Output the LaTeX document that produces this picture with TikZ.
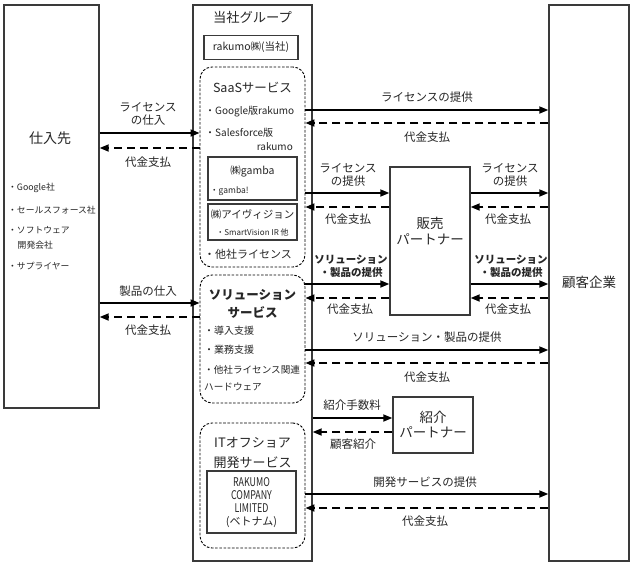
\documentclass[tikz,border=0pt]{standalone}
\usepackage{fontspec}
\setmainfont{Noto Sans CJK JP}
\usetikzlibrary{arrows.meta}
\definecolor{boxc}{HTML}{3A3A3A}
\definecolor{txtc}{HTML}{262626}
\newcommand\myfs[1]{\fontsize{#1}{#1}\selectfont}
\newcommand\cond[1]{\scalebox{0.74}[1]{#1}}
\begin{document}
\begin{tikzpicture}[x=1pt,y=-1pt,
  box/.style={draw=boxc, line width=1.4pt, inner sep=0pt, fill=none},
  dbox/.style={draw=black, line width=0.9pt, dash pattern=on 2.6pt off 1.6pt, rounded corners=12pt, inner sep=0pt},
  t/.style={inner sep=0pt, text=txtc, align=center},
  lbl/.style={t, font=\fontsize{11.5}{13.5}\selectfont},
  arr/.style={draw=black, line width=1.7pt, -{Triangle[length=9pt,width=7pt]}},
  darr/.style={arr, dash pattern=on 8pt off 5pt}]
\fill[white] (0,0) rectangle (635,568);
\useasboundingbox (0,0) rectangle (635,568);

% main boxes
\node[box, minimum width=95, minimum height=403] (sup) at (51.5,206.5) {};
\node[box, minimum width=119, minimum height=556] (grp) at (252.5,283) {};
\node[box, minimum width=80, minimum height=556] (cust) at (589,283) {};

% supplier texts
\node[t, font=\myfs{14}] (supT) at (50,138) {仕入先};
\node[t, anchor=west, font=\myfs{8.8}] (s1) at (8,188) {・Google社};
\node[t, anchor=west, font=\myfs{8.8}] (s2) at (8,210) {・セールスフォース社};
\node[t, anchor=west, font=\myfs{8.8}] (s3) at (8,230) {・ソフトウェア};
\node[t, anchor=west, font=\myfs{8.8}] (s4) at (17.5,245) {開発会社};
\node[t, anchor=west, font=\myfs{8.8}] (s5) at (8,266) {・サプライヤー};

% group contents
\node[t, font=\myfs{13.3}] (grpT) at (252.5,17) {当社グループ};
\node[box, minimum width=94, minimum height=24, font=\myfs{10.5}, text=txtc] (rak) at (251,47.5) {rakumo㈱(当社)};

\node[dbox, minimum width=105, minimum height=200] (saas) at (252.5,167) {};
\node[t, font=\myfs{12.5}] (saasT) at (252.5,88) {SaaSサービス};
\node[t, anchor=west, font=\myfs{10}] (g1) at (205,112) {・Google版rakumo};
\node[t, anchor=west, font=\myfs{10}] (g2) at (205,133) {・Salesforce版};
\node[t, anchor=east, font=\myfs{10}] (g3) at (293,147) {rakumo};
\node[box, minimum width=89, minimum height=43] (gam) at (252.5,178.5) {};
\node[t, font=\myfs{10.5}] (gamT) at (252.5,171) {㈱gamba};
\node[t, anchor=west, font=\myfs{8.5}] (gamB) at (210,191.5) {・gamba!};
\node[box, minimum width=89, minimum height=36] (ivi) at (252.5,222) {};
\node[t, font=\myfs{10.5}] (iviT) at (252.5,214) {㈱アイヴィジョン};
\node[t, font=\myfs{8}] (iviB) at (252.5,232) {・SmartVision IR 他};
\node[t, anchor=west, font=\myfs{11}] (g4) at (204,254) {・他社ライセンス};

\node[dbox, minimum width=105, minimum height=128] (sol) at (252.5,339) {};
\node[t, font=\fontsize{12.5}{18}\selectfont\bfseries] (solT) at (252.5,304) {ソリューション\\サービス};
\node[t, anchor=west, font=\myfs{10}] (o1) at (204,331) {・導入支援};
\node[t, anchor=west, font=\myfs{10}] (o2) at (204,350) {・業務支援};
\node[t, anchor=west, font=\myfs{9.6}] (o3) at (204,370) {・他社ライセンス関連};
\node[t, anchor=west, font=\myfs{9.6}] (o4) at (204,387) {ハードウェア};

\node[dbox, minimum width=105, minimum height=125] (ito) at (252.5,485.5) {};
\node[t, font=\fontsize{13}{20}\selectfont] (itoT) at (252.5,453) {ITオフショア\\開発サービス};
\node[box, minimum width=89, minimum height=62] (rkc) at (251.5,502) {};
\node[t, font=\fontsize{12}{13}\selectfont] (rkcT) at (251.5,502.5) {\cond{RAKUMO}\\\cond{COMPANY}\\\cond{LIMITED}\\{\fontsize{11}{13}\selectfont(ベトナム)}};

% customer
\node[t, font=\myfs{13.5}] (custT) at (589,282) {顧客企業};

% partners
\node[box, minimum width=80, minimum height=148] (sp) at (430,241) {};
\node[t, font=\fontsize{13.5}{16}\selectfont] (spT) at (430,231) {販売\\パートナー};
\node[box, minimum width=80, minimum height=56] (ip) at (433,425) {};
\node[t, font=\fontsize{13.5}{15}\selectfont] (ipT) at (433,424.5) {紹介\\パートナー};

% left arrows
\draw[arr] (sup.east |- 0,133) -- (saas.west |- 0,133);
\draw[darr] (saas.west |- 0,148) -- (sup.east |- 0,148);
\draw[arr] (sup.east |- 0,303) -- (sol.west |- 0,303);
\draw[darr] (sol.west |- 0,317) -- (sup.east |- 0,317);
\node[lbl] (l1) at (148,114) {ライセンス\\の仕入};
\node[lbl] (l2) at (148,162) {代金支払};
\node[lbl] (l3) at (148,291) {製品の仕入};
\node[lbl] (l4) at (148,330) {代金支払};

% right arrows
\draw[arr] (saas.east |- 0,110) -- (cust.west |- 0,110);
\draw[darr] (cust.west |- 0,123) -- (saas.east |- 0,123);
\node[lbl] (r1) at (427,97) {ライセンスの提供};
\node[lbl] (r2) at (427,137) {代金支払};

\draw[arr] (saas.east |- 0,193) -- (sp.west |- 0,193);
\draw[darr] (sp.west |- 0,207) -- (saas.east |- 0,207);
\draw[arr] (sp.east |- 0,193) -- (cust.west |- 0,193);
\draw[darr] (cust.west |- 0,207) -- (sp.east |- 0,207);
\node[lbl] (p1) at (348,175) {ライセンス\\の提供};
\node[lbl] (p2) at (510,175) {ライセンス\\の提供};
\node[lbl] (p3) at (348,219) {代金支払};
\node[lbl] (p4) at (508,219) {代金支払};

\draw[arr] (sol.east |- 0,284) -- (sp.west |- 0,284);
\draw[darr] (sp.west |- 0,298) -- (sol.east |- 0,298);
\draw[arr] (sp.east |- 0,284) -- (cust.west |- 0,284);
\draw[darr] (cust.west |- 0,298) -- (sp.east |- 0,298);
\node[t, font=\fontsize{10.5}{13}\selectfont\bfseries] (q1) at (351,266.5) {ソリューション\\・製品の提供};
\node[t, font=\fontsize{10.5}{13}\selectfont\bfseries] (q2) at (511,266.5) {ソリューション\\・製品の提供};
\node[lbl] (q3) at (350,309.5) {代金支払};
\node[lbl] (q4) at (508,309.5) {代金支払};

\draw[arr] (sol.east |- 0,350) -- (cust.west |- 0,350);
\draw[darr] (cust.west |- 0,363) -- (sol.east |- 0,363);
\node[lbl] (u1) at (427,337) {ソリューション・製品の提供};
\node[lbl] (u2) at (427,377) {代金支払};

\draw[arr] (grp.east |- 0,418) -- (ip.west |- 0,418);
\draw[darr] (ip.west |- 0,432) -- (grp.east |- 0,432);
\node[lbl] (i1) at (352,405) {紹介手数料};
\node[lbl] (i2) at (353,444) {顧客紹介};

\draw[arr] (ito.east |- 0,494) -- (cust.west |- 0,494);
\draw[darr] (cust.west |- 0,508) -- (ito.east |- 0,508);
\node[lbl] (d1) at (425,482) {開発サービスの提供};
\node[lbl] (d2) at (425,521) {代金支払};
\end{tikzpicture}
\end{document}
